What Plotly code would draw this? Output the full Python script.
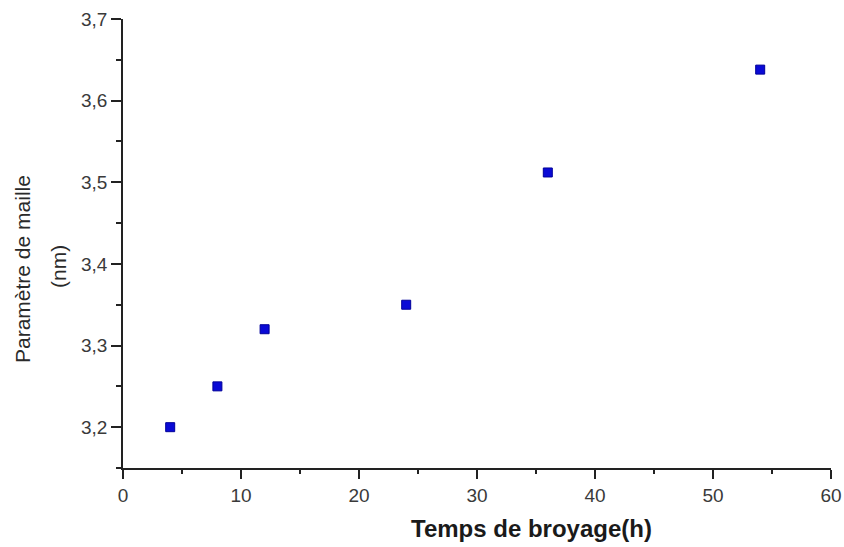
import plotly.graph_objects as go

# Lattice parameter vs milling time
milling_time_h = [4, 8, 12, 24, 36, 54]
lattice_param_nm = [3.20, 3.25, 3.32, 3.35, 3.512, 3.638]

x_ticks = [0, 10, 20, 30, 40, 50, 60]
y_ticks = [3.2, 3.3, 3.4, 3.5, 3.6, 3.7]

W, H = 844, 547
ML, MR, MT, MB = 123, 13, 19, 79
plot_w = W - ML - MR
plot_h = H - MT - MB

fig = go.Figure()
fig.add_trace(go.Scatter(
    x=milling_time_h,
    y=lattice_param_nm,
    mode="markers",
    marker=dict(symbol="square", size=9, color="#0a0ad6",
                line=dict(color="#00009a", width=1)),
    showlegend=False,
))

axis_font = dict(family="Liberation Sans, Arial, sans-serif", size=19, color="#3a3a3a")

fig.update_layout(
    width=W, height=H,
    margin=dict(l=ML, r=MR, t=MT, b=MB, autoexpand=False),
    paper_bgcolor="white", plot_bgcolor="white",
    separators=", ",
    xaxis=dict(
        range=[0, 60], tickvals=x_ticks, showgrid=False, zeroline=False,
        automargin=False,
        showline=True, linecolor="#222", linewidth=1.5,
        ticks="outside", ticklen=9, tickwidth=1.5, tickcolor="#222",
        minor=dict(dtick=5, ticks="outside", ticklen=4, tickwidth=1.5, tickcolor="#222"),
        tickfont=axis_font, fixedrange=True,
    ),
    yaxis=dict(
        range=[3.15, 3.7], tickvals=y_ticks, tickformat=".1f",
        showgrid=False, zeroline=False,
        automargin=False,
        showline=True, linecolor="#222", linewidth=1.5,
        ticks="outside", ticklen=10, tickwidth=1.5, tickcolor="#222",
        minor=dict(dtick=0.05, tick0=3.15, ticks="outside", ticklen=5, tickwidth=1.5, tickcolor="#222"),
        tickfont=axis_font, fixedrange=True,
    ),
    annotations=[
        dict(text="Temps de broyage(h)", xref="paper", yref="paper",
             x=(531 - ML) / plot_w, y=(468 - 528) / plot_h,
             xanchor="center", yanchor="middle", showarrow=False,
             font=dict(family="Liberation Sans, Arial, sans-serif", size=24,
                       color="#1a1a1a", weight="bold")),
        dict(text="Paramètre de maille", xref="paper", yref="paper",
             x=(22 - ML) / plot_w, y=(468 - 269) / plot_h, textangle=-90,
             xanchor="center", yanchor="middle", showarrow=False,
             font=dict(family="Liberation Sans, Arial, sans-serif", size=21, color="#2a2a2a")),
        dict(text="(nm)", xref="paper", yref="paper",
             x=(58 - ML) / plot_w, y=(468 - 267) / plot_h, textangle=-90,
             xanchor="center", yanchor="middle", showarrow=False,
             font=dict(family="Liberation Sans, Arial, sans-serif", size=21, color="#2a2a2a")),
    ],
)

fig.write_html("out.html")
